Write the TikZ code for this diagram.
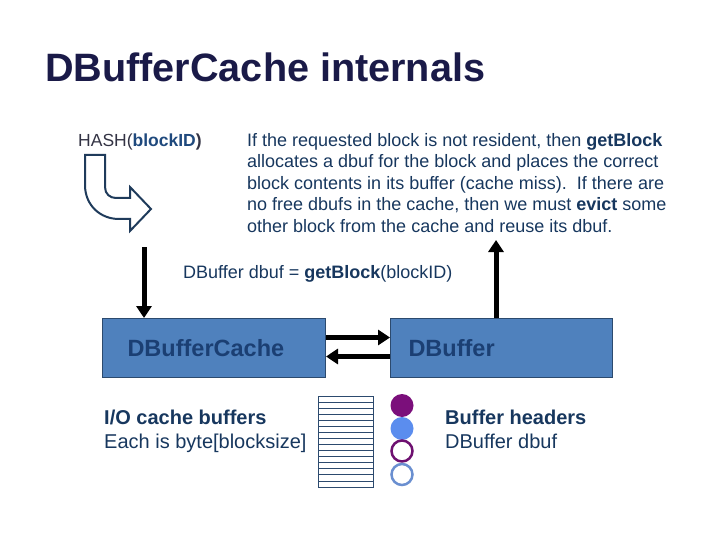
\documentclass[tikz,border=0pt]{standalone}
\usepackage{fontspec}
\setmainfont{Liberation Sans}
\usetikzlibrary{arrows.meta,calc}
\definecolor{navy}{HTML}{17375E}
\definecolor{titlec}{HTML}{1A1A48}
\definecolor{boxfill}{HTML}{4F81BD}
\definecolor{boxline}{HTML}{2C4A6E}
\definecolor{boxtext}{HTML}{1B3F73}
\definecolor{hashc}{HTML}{333344}
\definecolor{hashblue}{HTML}{1F497D}
\definecolor{arrowline}{HTML}{1F3B5B}
\definecolor{cpurple}{HTML}{7B0F7B}
\definecolor{cblue}{HTML}{5B8DEE}
\definecolor{copurple}{HTML}{6E1070}
\definecolor{coblue}{HTML}{6A8FD0}
\tikzset{
  blockbox/.style={draw=boxline, line width=1pt, fill=boxfill, anchor=north west,
    minimum height=59pt, inner ysep=0pt, align=left, text=boxtext,
    font=\bfseries\fontsize{23.5}{26}\selectfont},
  bigarrow/.style={line width=5pt, -{Triangle[width=15pt,length=12pt]}},
  txt/.style={inner sep=0pt, text=navy, align=left},
  fullcirc/.style={circle, minimum size=23pt, inner sep=0pt},
  opencirc/.style={circle, minimum size=21pt, inner sep=0pt, line width=2.5pt, fill=white}
}
\begin{document}
\begin{tikzpicture}[x=1pt,y=-1pt]
\useasboundingbox (0,0) rectangle (720,540);
% title
\node[inner sep=0pt, anchor=base west, text=titlec, font=\bfseries\fontsize{39.6}{44}\selectfont] (title) at (45,82) {DBufferCache internals};
% hash label
\node[inner sep=0pt, anchor=base west, font=\fontsize{17.5}{20}\selectfont] (hash) at (78,147)
  {\textcolor{hashc}{HASH(}\textcolor{hashblue}{\bfseries blockID}\textcolor{hashc}{\bfseries )}};
% curved hollow arrow
\draw[arrowline, line width=2pt, line join=miter] (85,155) -- (85,185)
  .. controls (85,205) and (100,219) .. (119,219) -- (130,219) -- (130,231) -- (151,209)
  -- (130,187) -- (130,198) -- (116,198)
  .. controls (110,198) and (105,194) .. (105,187) -- (105,155) -- cycle;
% paragraph
\node[txt, anchor=north west, font=\fontsize{18}{21.5}\selectfont] (para) at (247,133)
  {If the requested block is not resident, then \textbf{getBlock}\\
   allocates a dbuf for the block and places the correct\\
   block contents in its buffer (cache miss).\ \ If there are\\
   no free dbufs in the cache, then we must \textbf{evict} some\\
   other block from the cache and reuse its dbuf.};
% call
\node[txt, anchor=base west, font=\fontsize{18}{21}\selectfont] (call) at (183,278)
  {DBuffer dbuf = \textbf{getBlock}(blockID)};
% boxes
\node[blockbox, minimum width=223pt, text width=173pt, inner xsep=25pt] (cache) at (102,318) {DBufferCache};
\node[blockbox, minimum width=222pt, text width=186pt, inner xsep=18pt] (dbuf) at (390,318) {DBuffer};
% vertical arrows
\coordinate (downstart) at (144,247);
\draw[bigarrow] (downstart) -- (downstart |- cache.north);
\coordinate (upend) at (496,240);
\draw[bigarrow] (upend |- dbuf.north) -- (upend);
% horizontal arrows
\draw[bigarrow] ([yshift=10.5pt]cache.east) -- ([yshift=10.5pt]dbuf.west);
\draw[bigarrow] ([yshift=-8.5pt]dbuf.west) -- ([yshift=-8.5pt]cache.east);
% buffers stack
\draw[boxline, line width=1pt] (318,396) rectangle (373,487);
\foreach \i in {1,...,14} {
  \draw[boxline, line width=0.8pt] (318,{396+\i*91/15}) -- (373,{396+\i*91/15});
}
% circles
\node[fullcirc, fill=cpurple] (c1) at (402,405.5) {};
\node[fullcirc, fill=cblue] (c2) at (402,428.5) {};
\node[opencirc, draw=copurple] (c3) at (402,451) {};
\node[opencirc, draw=coblue] (c4) at (402,474.5) {};
% bottom texts
\node[txt, anchor=base west, font=\fontsize{20}{23.5}\selectfont] (io) at (104,448)
  {\textbf{I/O cache buffers}\\Each is byte[blocksize]};
\node[txt, anchor=base west, font=\fontsize{20}{23.5}\selectfont] (hdr) at (445,448)
  {\textbf{Buffer headers}\\DBuffer dbuf};
\end{tikzpicture}
\end{document}
